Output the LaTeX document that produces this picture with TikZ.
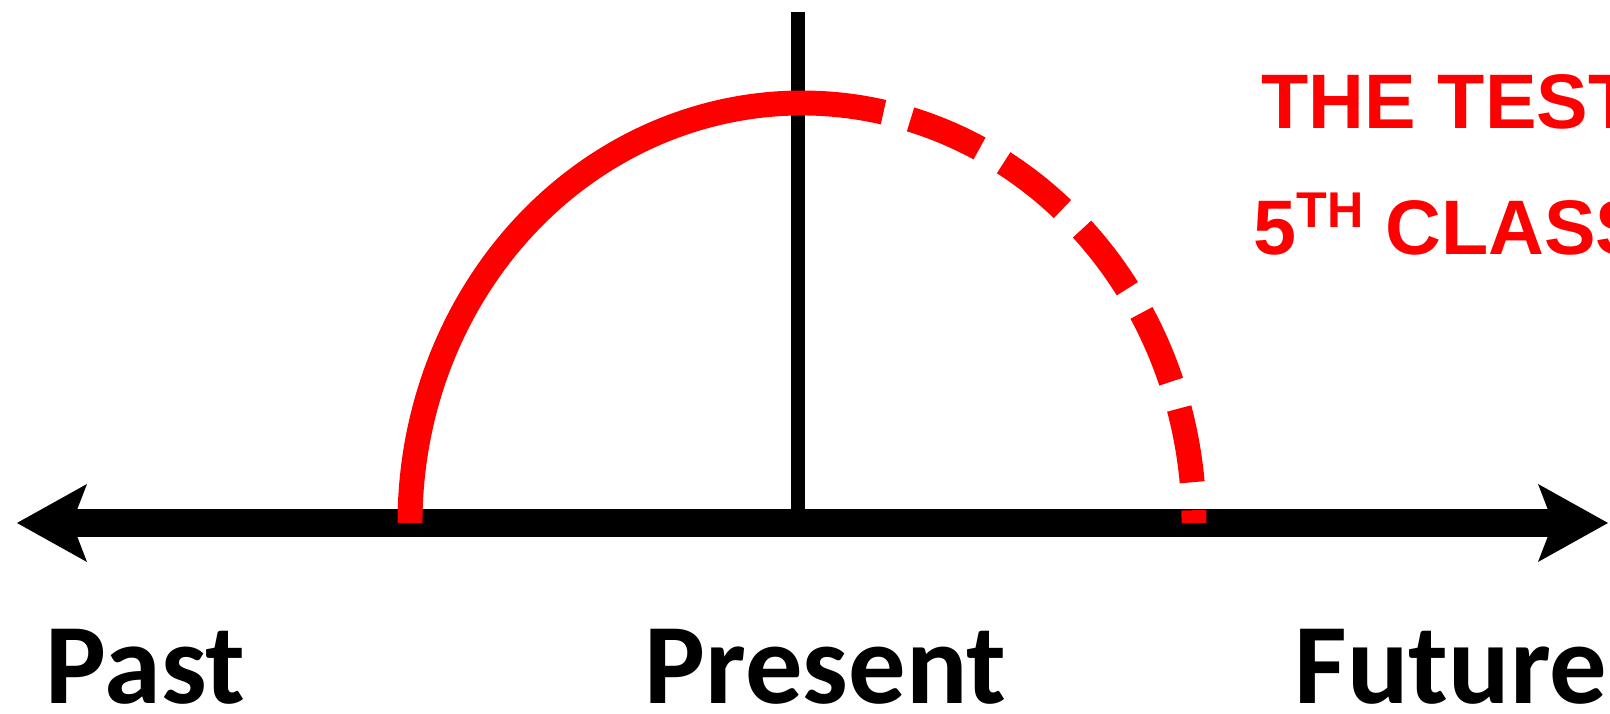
\documentclass[tikz,border=0pt]{standalone}
\usepackage{fontspec}
\usepackage{tikz}
\usetikzlibrary{arrows.meta}
\newfontfamily\labelfont{Carlito}
\newfontfamily\titlefont{Liberation Sans}
\definecolor{Scarlet}{HTML}{FF0000}

\begin{document}
\begin{tikzpicture}[
    >={Stealth[length=7mm, width=7.8mm, inset=1.5mm, line width=0pt]},
    axis/.style={<->, line width=7.7pt, black},
    marker/.style={line width=4pt, black},
    curve/.style={line width=7.1pt, Scarlet},
    curvedash/.style={curve, dash pattern=on 0.75cm off 0.28cm, dash phase=0.75cm},
    timelabel/.style={anchor=base west, inner sep=0pt, font=\labelfont\bfseries\fontsize{32.6pt}{38pt}\selectfont},
    heading/.style={anchor=base west, inner sep=0pt, text=Scarlet, font=\titlefont\bfseries\fontsize{22pt}{26pt}\selectfont}
]
\useasboundingbox (0,0) rectangle (16.1,7.14);
\clip (0,0) rectangle (16.1,7.14);

% Time line
\coordinate (west) at (0.17,1.91);
\coordinate (east) at (16.08,1.91);
\coordinate (now) at (7.98,1.91);
\coordinate (nowtop) at (7.98,7.02);
\draw[axis] (west) -- (east);
\draw[marker] (now) -- (nowtop);

% Arc: solid part, then dashed part
\coordinate (arcstart) at (4.10,1.91);
\draw[curve] (arcstart) arc[start angle=180, end angle=78, x radius=3.92cm, y radius=4.20cm] coordinate (arcsplit);
\draw[curvedash] (arcsplit) arc[start angle=78, end angle=0, x radius=3.92cm, y radius=4.20cm];

% Labels
\node[timelabel] (past) at (0.45,0.10) {Past};
\node[timelabel] (present) at (6.44,0.10) {Present};
\node[timelabel] (future) at (12.94,0.10) {Future};

% Heading
\node[heading] (test) at (12.61,5.85) {THE TEST};
\node[heading] (class) at (12.53,4.59) {5\raisebox{7.7pt}{\fontsize{14.3pt}{16pt}\selectfont TH} CLASS};

\end{tikzpicture}
\end{document}
